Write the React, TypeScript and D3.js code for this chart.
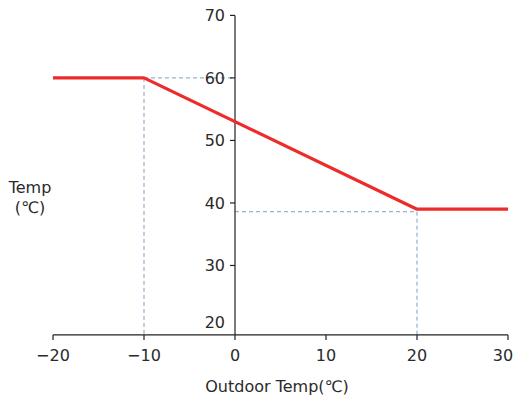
import React from "react";
import * as d3 from "d3";

const curveX = [-20, -10, 20, 30];
const curveY = [60, 60, 39, 39];
const guideA = { x: -10, y: 60 };
const guideB = { x: 20, y: 38.6 };
const xTicks = [-20, -10, 0, 10, 20, 30];
const yTicks = [30, 40, 50, 60, 70];
const yExtraLabel = 20;
const yAxisBottom = 18.9;

const W = 515;
const H = 396;
const FONT = "'DejaVu Sans', 'Noto Sans CJK KR', sans-serif";

export default function App() {
  const x = d3.scaleLinear().domain([-20, 30]).range([53, 508]);
  const y = d3.scaleLinear().domain([70, 20]).range([15.4, 328]);
  const axisY = y(yAxisBottom);
  const x0 = x(0);
  const pts = curveX.map((v, i) => [v, curveY[i]] as [number, number]);
  const line = d3
    .line<[number, number]>()
    .x((d) => x(d[0]))
    .y((d) => y(d[1]));
  const dash = "4,3";
  const guideColor = "#7f9fbf";
  const textColor = "#2a2a2a";
  return (
    <svg
      width={W}
      height={H}
      style={{ position: "absolute", left: 0, top: 0, background: "#fff" }}
      fontFamily={FONT}
    >
      {/* guides */}
      <g stroke={guideColor} strokeWidth={1} strokeDasharray={dash} fill="none">
        <line x1={x(guideA.x)} y1={y(guideA.y)} x2={x(guideA.x)} y2={axisY} />
        <line x1={x(guideA.x)} y1={y(guideA.y)} x2={x0} y2={y(guideA.y)} />
        <line x1={x0} y1={y(guideB.y)} x2={x(guideB.x)} y2={y(guideB.y)} />
        <line x1={x(guideB.x)} y1={y(guideB.y)} x2={x(guideB.x)} y2={axisY} />
      </g>
      {/* axes */}
      <g stroke="#222" strokeWidth={1.2}>
        <line x1={x(-20)} y1={axisY} x2={x(30)} y2={axisY} />
        <line x1={x0} y1={y(70)} x2={x0} y2={axisY} />
        {xTicks.map((t) => (
          <line key={"xt" + t} x1={x(t)} y1={axisY} x2={x(t)} y2={axisY + 5} />
        ))}
        {yTicks.map((t) => (
          <line key={"yt" + t} x1={x0 - 5} y1={y(t)} x2={x0} y2={y(t)} />
        ))}
      </g>
      <g fontSize={16} fill={textColor}>
        {xTicks.map((t) => (
          <text key={"xl" + t} x={Math.min(x(t), W - 12)} y={axisY + 26} textAnchor="middle">
            {t < 0 ? "\u2212" + Math.abs(t) : String(t)}
          </text>
        ))}
        {yTicks.map((t) => (
          <text key={"yl" + t} x={x0 - 10} y={y(t)} dy="0.36em" textAnchor="end">
            {t}
          </text>
        ))}
        <text x={x0 - 10} y={y(yExtraLabel) - 6} dy="0.36em" textAnchor="end">
          {yExtraLabel}
        </text>
      </g>
      <path d={line(pts) || ""} fill="none" stroke="#ee2b2b" strokeWidth={3.2} strokeLinejoin="round" />
      <g fontSize={16} fill={textColor}>
        <text x={30} y={193} textAnchor="middle">Temp</text>
        <text x={30} y={213} textAnchor="middle">(℃)</text>
        <text x={277} y={392} textAnchor="middle">Outdoor Temp(℃)</text>
      </g>
    </svg>
  );
}
